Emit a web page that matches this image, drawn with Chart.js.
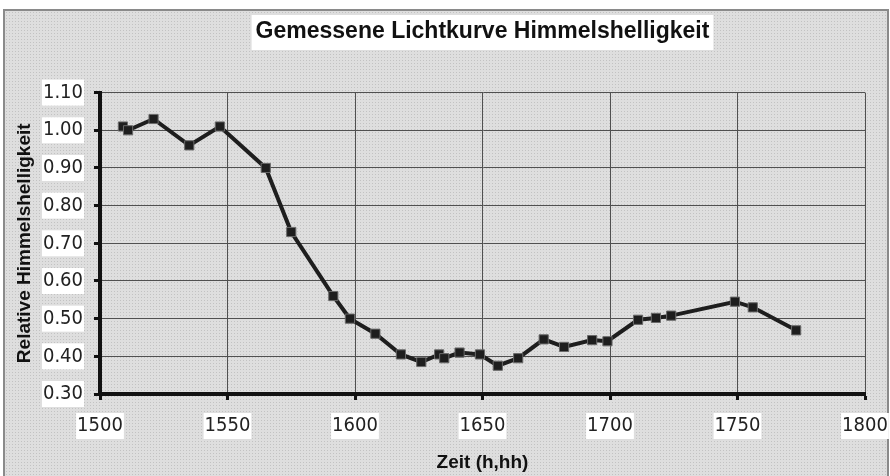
<!DOCTYPE html>
<html>
<head>
<meta charset="utf-8">
<script src="https://cdn.jsdelivr.net/npm/chart.js@4/dist/chart.umd.min.js"></script>
<style>
  html, body { margin: 0; padding: 0; background: #fff; }
  body { width: 890px; height: 476px; position: relative; overflow: hidden; }
  #frame {
    position: absolute; left: 3px; top: 9px; width: 882px; height: 470px;
    border: 2px solid #8a8a8a;
    background-color: #dedede;
    background-image: radial-gradient(#c2c2c2 0.6px, transparent 0.8px);
    background-size: 3px 3px;
  }
  #chart-light { position: absolute; left: 0; top: 0; }
</style>
</head>
<body>
<div id="frame"></div>
<canvas id="chart-light" width="890" height="476"></canvas>
<script>
// Zeit (h,hh) und relative Himmelshelligkeit
const timeValues = [1509, 1511, 1521, 1535, 1547, 1565, 1575, 1591.5, 1598, 1608, 1618, 1626, 1633, 1635,
  1641, 1649, 1656, 1664, 1674, 1682, 1693, 1699, 1711, 1718, 1724, 1749, 1756, 1773];
const brightnessValues = [1.01, 1.00, 1.03, 0.96, 1.01, 0.90, 0.73, 0.56, 0.50, 0.46, 0.405, 0.385, 0.405, 0.395,
  0.41, 0.405, 0.375, 0.395, 0.445, 0.425, 0.443, 0.44, 0.497, 0.502, 0.508, 0.545, 0.53, 0.469];
const xTicks = [1500, 1550, 1600, 1650, 1700, 1750, 1800];
const yTicks = [0.30, 0.40, 0.50, 0.60, 0.70, 0.80, 0.90, 1.00, 1.10];

const FONT = "'Liberation Sans Narrow', 'DejaVu Sans Condensed', 'Liberation Sans', Arial, sans-serif";
const TITLE_FONT = "'Liberation Sans', Arial, sans-serif";

// white box behind the chart title
const titleBox = {
  id: 'titleBox',
  beforeDraw(chart) {
    const tb = chart.titleBlock;
    if (!tb) return;
    const ctx = chart.ctx;
    ctx.save();
    ctx.font = 'bold 23px ' + TITLE_FONT;
    const w = ctx.measureText(chart.options.plugins.title.text).width + 8;
    const cx = (tb.left + tb.right) / 2;
    ctx.fillStyle = '#fff';
    ctx.fillRect(cx - w / 2, 15, w, 35);
    ctx.restore();
  }
};

new Chart(document.getElementById('chart-light'), {
  type: 'scatter',
  data: {
    datasets: [{
      data: timeValues.map((t, i) => ({ x: t, y: brightnessValues[i] })),
      showLine: true,
      borderColor: '#1e1e1e', borderWidth: 4,
      pointStyle: 'rect', pointRadius: 6.5, pointHoverRadius: 6.5,
      pointBackgroundColor: '#1e1e1e', pointBorderColor: '#6a6a6a', pointBorderWidth: 1
    }]
  },
  plugins: [titleBox],
  options: {
    responsive: false, animation: false,
    devicePixelRatio: 1,
    layout: { padding: { left: 0, right: 25, top: 0, bottom: 0 } },
    plugins: {
      legend: { display: false },
      tooltip: { enabled: false },
      title: {
        display: true, fullSize: false, text: 'Gemessene Lichtkurve Himmelshelligkeit', color: '#111',
        font: { family: TITLE_FONT, size: 23, weight: 'bold' },
        padding: { top: 18, bottom: 47 }
      }
    },
    scales: {
      x: {
        type: 'linear', min: 1500, max: 1800,
        afterBuildTicks: s => { s.ticks = xTicks.map(v => ({ value: v })); },
        afterFit: s => { s.height = 82; s.paddingLeft = 0; s.paddingRight = 0; },
        border: { color: '#111', width: 4 },
        grid: { color: '#505050', lineWidth: 1, tickColor: '#111', tickWidth: 3, tickLength: 6 },
        ticks: {
          color: '#222', padding: 14, maxRotation: 0, font: { family: FONT, size: 20 },
          callback: v => String(v),
          showLabelBackdrop: true, backdropColor: '#fff', backdropPadding: 1
        },
        title: {
          display: true, text: 'Zeit (h,hh)', color: '#111',
          font: { family: TITLE_FONT, size: 19, weight: 'bold' }, padding: { bottom: 2 }
        }
      },
      y: {
        min: 0.3, max: 1.1,
        afterBuildTicks: s => { s.ticks = yTicks.map(v => ({ value: v })); },
        afterFit: s => { s.width = 100; s.paddingTop = 0; s.paddingBottom = 0; },
        border: { color: '#111', width: 4 },
        grid: { color: '#505050', lineWidth: 1, tickColor: '#111', tickWidth: 3, tickLength: 6 },
        ticks: {
          color: '#222', padding: 11, font: { family: FONT, size: 20 },
          callback: v => v.toFixed(2),
          showLabelBackdrop: true, backdropColor: '#fff', backdropPadding: 1
        },
        title: {
          display: true, text: 'Relative Himmelshelligkeit', color: '#111',
          font: { family: TITLE_FONT, size: 19, weight: 'bold' }, padding: { top: 13 }
        }
      }
    }
  }
});
</script>
</body>
</html>
